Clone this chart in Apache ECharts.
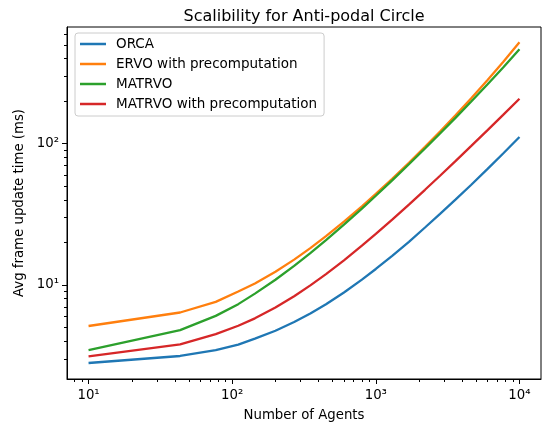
<!DOCTYPE html>
<html><head><meta charset="utf-8">
<script src="https://cdn.jsdelivr.net/npm/echarts@6/dist/echarts.min.js"></script>
<style>html,body{margin:0;padding:0;background:#fff}#c{width:544px;height:427px}</style>
</head><body><div id="c"></div>
<script>
// ---- data ----
const agents = [10, 43.4, 76.8, 110.2, 144, 200, 270, 350, 450, 600, 800, 1000, 1300, 1700, 2200, 2800, 3600, 4600, 6000, 7700, 10000];
const orca   = [2.80, 3.14, 3.45, 3.78, 4.17, 4.74, 5.46, 6.28, 7.30, 8.84, 10.9, 12.97, 16.07, 20.2, 25.5, 31.8, 40.3, 51.0, 66.3, 85.2, 111.4];
const ervoPre = [5.12, 6.38, 7.59, 8.98, 10.25, 12.41, 15.11, 18.22, 22.13, 28.04, 36.03, 44.12, 56.47, 73.31, 94.98, 121.9, 159.3, 208.5, 282.1, 378.6, 522];
const matrvo = [3.46, 4.79, 6.04, 7.31, 8.68, 10.88, 13.63, 16.79, 20.75, 26.71, 34.72, 42.78, 54.98, 71.46, 92.38, 117.97, 152.9, 197.9, 263.3, 346.6, 466];
const matrvoPre = [3.12, 3.80, 4.49, 5.14, 5.80, 6.92, 8.32, 9.93, 11.93, 14.94, 18.95, 22.97, 29.0, 37.07, 47.16, 59.3, 75.6, 96.0, 124.7, 159.9, 207.9];
const seriesNames = ['ORCA', 'ERVO with precomputation', 'MATRVO', 'MATRVO with precomputation'];
const xMajor = [10, 100, 1000, 10000];
const xMinor = [8, 9, 20, 30, 40, 50, 60, 70, 80, 90, 200, 300, 400, 500, 600, 700, 800, 900, 2000, 3000, 4000, 5000, 6000, 7000, 8000, 9000];
const yMajor = [10, 100];
const yMinor = [3, 4, 5, 6, 7, 8, 9, 20, 30, 40, 50, 60, 70, 80, 90, 200, 300, 400, 500, 600];
const titleText = 'Scalibility for Anti-podal Circle';
const xName = 'Number of Agents';
const yName = 'Avg frame update time (ms)';

// ---- chart ----
const FONT = 'DejaVu Sans';
const colors = ['#1f77b4', '#ff7f0e', '#2ca02c', '#d62728'];
const X_MIN = Math.pow(10, 0.85), X_MAX = Math.pow(10, 4.15);
const Y_MIN = Math.pow(10, 0.334), Y_MAX = Math.pow(10, 2.826);
const SUP = {0:'⁰',1:'¹',2:'²',3:'³',4:'⁴'};
function powLabel(v) {
  const e = Math.round(Math.log10(v));
  if (Math.abs(Math.pow(10, e) - v) > 1e-6 * v) return '';
  return '10' + SUP[e];
}
const tickStyle = {color: '#000', width: 1};
function mkAxis(kind, extra) {
  const isX = kind === 'x';
  const base = {
    type: 'log', logBase: 10,
    min: isX ? X_MIN : Y_MIN, max: isX ? X_MAX : Y_MAX,
    splitLine: {show: false}, minorTick: {show: false}, minorSplitLine: {show: false}
  };
  return Object.assign(base, extra);
}
const allSeries = [orca, ervoPre, matrvo, matrvoPre];
const chart = echarts.init(document.getElementById('c'), null, {renderer: 'canvas'});
chart.setOption({
  animation: false,
  backgroundColor: '#fff',
  textStyle: {fontFamily: FONT},
  title: {
    text: titleText, left: 299, top: 4, textAlign: 'center',
    textStyle: {fontFamily: FONT, fontSize: 16, fontWeight: 'normal', color: '#000'}
  },
  grid: {left: 67, top: 27, width: 474, height: 353, show: true, borderColor: '#000', borderWidth: 1, backgroundColor: 'transparent'},
  legend: {
    orient: 'vertical', left: 75, top: 33,
    padding: [4, 7, 5, 5], itemGap: 6,
    itemWidth: 26, itemHeight: 2.5, icon: 'rect',
    backgroundColor: 'rgba(255,255,255,0.8)', borderColor: '#cccccc', borderWidth: 1, borderRadius: 3,
    textStyle: {fontFamily: FONT, fontSize: 13.5, color: '#000', lineHeight: 14, padding: [0, 0, 0, 5]},
    data: seriesNames
  },
  xAxis: [
    mkAxis('x', {
      name: xName, nameLocation: 'middle', nameGap: 30,
      nameTextStyle: {fontFamily: FONT, fontSize: 13.3, color: '#000'},
      axisLine: {show: true, lineStyle: tickStyle},
      axisTick: {show: true, length: 5, lineStyle: tickStyle, customValues: xMajor},
      axisLabel: {show: true, margin: 10, fontFamily: FONT, fontSize: 13.3, color: '#000', customValues: xMajor, formatter: powLabel}
    }),
    mkAxis('x', {
      position: 'bottom',
      axisLine: {show: false},
      axisTick: {show: true, length: 3, lineStyle: tickStyle, customValues: xMinor},
      axisLabel: {show: false}
    })
  ],
  yAxis: [
    mkAxis('y', {
      name: yName, nameLocation: 'middle', nameGap: 30, nameRotate: 90,
      nameTextStyle: {fontFamily: FONT, fontSize: 13.3, color: '#000'},
      axisLine: {show: true, lineStyle: tickStyle},
      axisTick: {show: true, length: 5, lineStyle: tickStyle, customValues: yMajor},
      axisLabel: {show: true, margin: 8, fontFamily: FONT, fontSize: 13.3, color: '#000', customValues: yMajor, formatter: powLabel}
    }),
    mkAxis('y', {
      position: 'left',
      axisLine: {show: false},
      axisTick: {show: true, length: 3, lineStyle: tickStyle, customValues: yMinor},
      axisLabel: {show: false}
    })
  ],
  series: allSeries.map((vals, i) => ({
    name: seriesNames[i], type: 'line', xAxisIndex: 0, yAxisIndex: 0,
    data: agents.map((x, j) => [x, vals[j]]),
    showSymbol: false, symbol: 'none', smooth: false,
    lineStyle: {color: colors[i], width: 2.3}, itemStyle: {color: colors[i]},
    z: 2 + i
  }))
});
</script></body></html>
